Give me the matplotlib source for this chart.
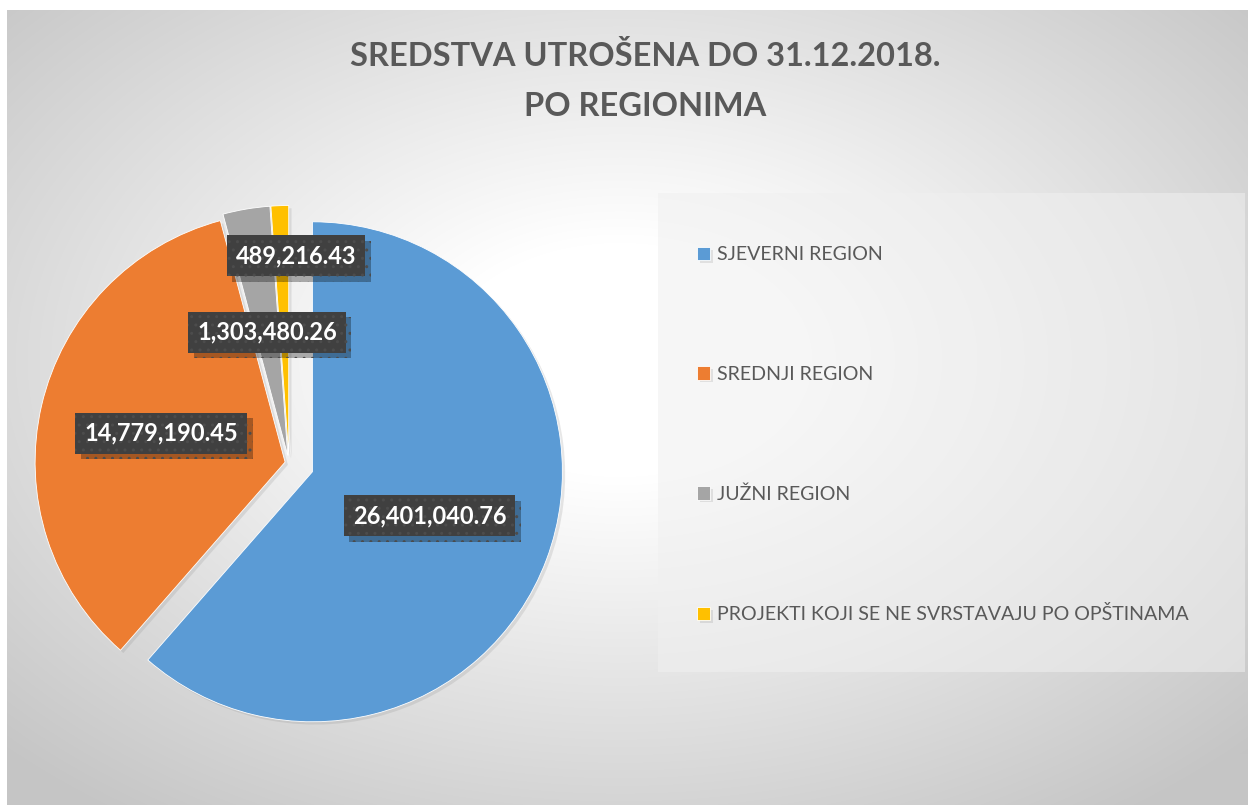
import numpy as np
import matplotlib
matplotlib.use("Agg")
import matplotlib.pyplot as plt
from matplotlib.patches import Rectangle
import matplotlib.patheffects as pe

# data
regions = ['SJEVERNI REGION', 'SREDNJI REGION', 'JUŽNI REGION',
           'PROJEKTI KOJI SE NE SVRSTAVAJU PO OPŠTINAMA']
amounts = [26401040.76, 14779190.45, 1303480.26, 489216.43]
colors = ['#5B9BD5', '#ED7D31', '#A5A5A5', '#FFC000']
explode = [0.1, 0.016, 0.03, 0.03]
label_dist = [0.60, 0.525, 0.53, 0.83]
label_turn = [0, 0, 0, -4]

plt.rcParams['font.family'] = ['Lato', 'DejaVu Sans']

W, H = 1248, 805
fig = plt.figure(figsize=(W / 100, H / 100), dpi=100)
fig.patch.set_facecolor('white')
ax = fig.add_axes([0, 0, 1, 1])

# radial grey background like the office chart area
yy, xx = np.mgrid[0:H, 0:W]
rn = np.sqrt(((xx - 620) / 720.0) ** 2 + ((yy - 360) / 470.0) ** 2)
v = (255 - 58 * np.clip((rn - 0.25) / 0.95, 0, 1)) / 255.0
bg = np.dstack([v, v, v])
ax.imshow(bg[11:, 7:], extent=(7, W, 0, H - 11), zorder=0, interpolation='bilinear')

center = (289, H - 463)
R = 250
# matplotlib explode is in data units, so scale by the radius
wedges, _ = ax.pie(amounts, explode=[e * R for e in explode], colors=colors,
                   startangle=90, counterclock=False, center=center, radius=R,
                   wedgeprops=dict(edgecolor='white', linewidth=0.6))
for w in wedges:
    w.set_zorder(2)
    w.set_path_effects([pe.SimplePatchShadow(offset=(2, -2), shadow_rgbFace='#888888', alpha=0.2),
                        pe.Normal()])

# value labels in dark boxes
for w, val, d, t in zip(wedges, amounts, label_dist, label_turn):
    ang = np.deg2rad((w.theta1 + w.theta2) / 2 + t)
    x = center[0] + d * R * np.cos(ang)
    y = center[1] + d * R * np.sin(ang)
    lab = ax.text(x, y, f"{val:,.2f}", ha='center', va='center', fontsize=17,
                  fontweight='bold', color='white', zorder=4,
                  bbox=dict(boxstyle='square,pad=0.38', facecolor='#404040',
                            edgecolor='#4c4c4c', linewidth=0, hatch='..'))
    lab.get_bbox_patch().set_path_effects([
        pe.SimplePatchShadow(offset=(4, -4), shadow_rgbFace='black', alpha=0.3),
        pe.Normal()])

# legend area
ax.add_patch(Rectangle((658, H - 672), 587, 479, facecolor='#f0f0f0',
                       edgecolor='none', alpha=0.55, zorder=1))
leg = ax.legend(wedges, regions, loc='upper left', bbox_to_anchor=(697, H - 246.5),
                bbox_transform=ax.transData, frameon=False, fontsize=14.1,
                labelspacing=5.23, handlelength=0.66, handleheight=0.66,
                handletextpad=0.35, borderpad=0, borderaxespad=0,
                labelcolor='#595959')

fig.text(645 / W, 1 - 81 / H, 'SREDSTVA UTROŠENA DO 31.12.2018.\nPO REGIONIMA',
         ha='center', va='center', fontsize=23.5, fontweight='bold',
         color='#595959', linespacing=1.85)

ax.set_xlim(0, W)
ax.set_ylim(0, H)
ax.set_aspect('auto')
ax.axis('off')

fig.savefig('out.png', dpi=100)
